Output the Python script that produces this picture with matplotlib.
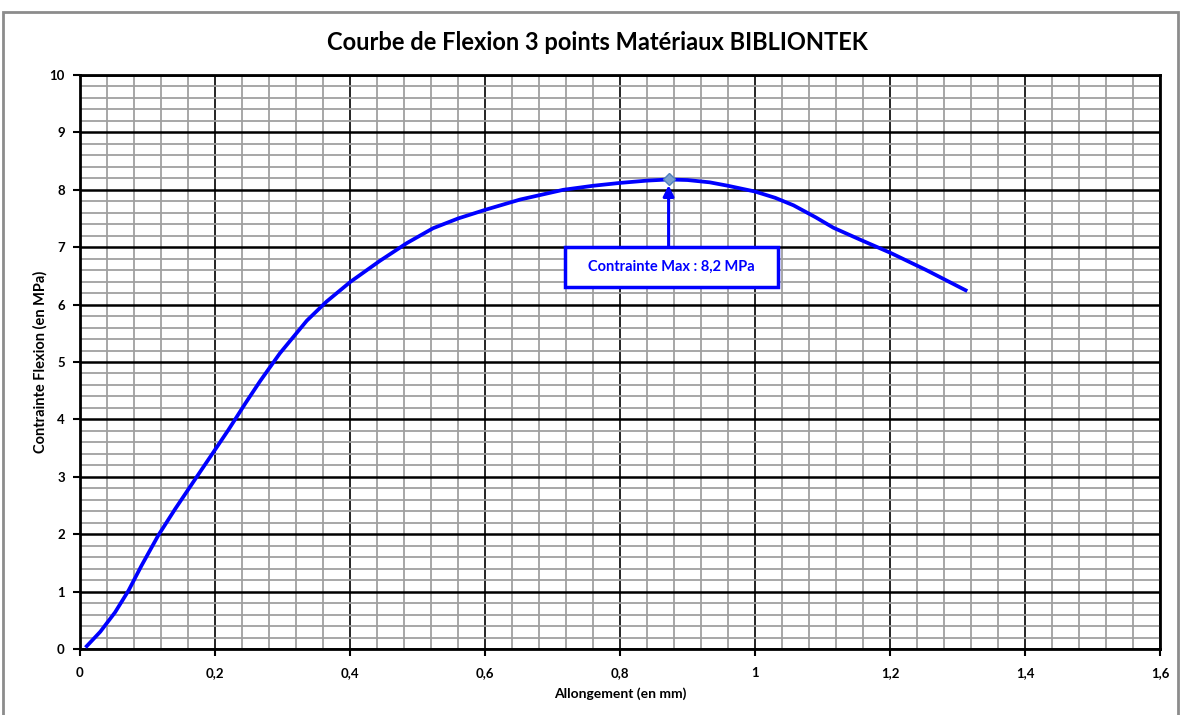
import matplotlib
matplotlib.use("Agg")
import matplotlib.pyplot as plt
from matplotlib.patches import Rectangle
from matplotlib.ticker import MultipleLocator

# Données
allongement = [0.01, 0.03, 0.052, 0.072, 0.091, 0.116, 0.141, 0.173, 0.2, 0.22,
               0.245, 0.267, 0.296, 0.336, 0.365, 0.401, 0.444, 0.484, 0.523, 0.56,
               0.6, 0.652, 0.716, 0.76, 0.8, 0.84, 0.872, 0.9, 0.933, 0.96,
               1.0, 1.03, 1.057, 1.09, 1.116, 1.156, 1.201, 1.254, 1.312]
contrainte = [0.05, 0.3, 0.64, 1.02, 1.45, 1.98, 2.44, 3.0, 3.47, 3.82,
              4.28, 4.67, 5.15, 5.72, 6.05, 6.4, 6.76, 7.07, 7.33, 7.5,
              7.65, 7.83, 8.0, 8.07, 8.12, 8.16, 8.18, 8.17, 8.13, 8.07,
              7.97, 7.86, 7.73, 7.52, 7.34, 7.13, 6.9, 6.6, 6.25]

x_ticks = [0, 0.2, 0.4, 0.6, 0.8, 1.0, 1.2, 1.4, 1.6]
x_labels = ["0", "0,2", "0,4", "0,6", "0,8", "1", "1,2", "1,4", "1,6"]
y_ticks = [0, 1, 2, 3, 4, 5, 6, 7, 8, 9, 10]

pic_x, pic_y = 0.872, 8.18
pic_texte = "Contrainte Max : 8,2 MPa"

plt.rcParams['font.family'] = ['Lato', 'DejaVu Sans']

fig = plt.figure(figsize=(11.82, 7.15), dpi=100)
ax = fig.add_axes([80 / 1182, 1 - 649 / 715, 1080 / 1182, 574 / 715])

# cadre gris autour du graphique
fig.patches.append(Rectangle((3 / 1182, -0.02), 1175 / 1182, 1.02 - 12 / 715,
                             transform=fig.transFigure, fill=False,
                             edgecolor='#8c8c8c', linewidth=2))

# grilles
ax.set_xlim(0, 1.6)
ax.set_ylim(0, 10)
ax.set_xticks(x_ticks)
ax.set_xticklabels(x_labels)
ax.set_yticks(y_ticks)
ax.xaxis.set_minor_locator(MultipleLocator(0.04))
ax.yaxis.set_minor_locator(MultipleLocator(0.2))
ax.grid(which='minor', color='#a0a0a0', linewidth=1.3)
ax.grid(which='major', axis='x', color='black', linewidth=1.2)
ax.grid(which='major', axis='y', color='black', linewidth=1.8)
ax.set_axisbelow(True)
ax.tick_params(which='minor', length=0)
ax.tick_params(which='major', length=5, width=1.5, direction='out', labelsize=9.5)
for lab in ax.get_xticklabels() + ax.get_yticklabels():
    lab.set_fontweight('bold')
ax.tick_params(axis='x', pad=8)
ax.tick_params(axis='y', pad=6)
for s in ax.spines.values():
    s.set_linewidth(2)

# courbe
ax.plot(allongement, contrainte, color='#0000ff', linewidth=2.7,
        solid_joinstyle='round', zorder=3)
ax.plot([pic_x], [pic_y], marker='D', markersize=6, markerfacecolor='#7fa3cc',
        markeredgecolor='#4f81bd', zorder=4)

# annotation du maximum : cadre + flèche
bx0, bx1, by0, by1 = 0.7185, 1.034, 6.31, 7.0
ax.add_patch(Rectangle((bx0, by0), bx1 - bx0, by1 - by0, facecolor='white',
                       edgecolor='#0000ff', linewidth=2.5, zorder=5))
ax.text((bx0 + bx1) / 2, (by0 + by1) / 2, pic_texte, ha='center', va='center',
        fontsize=10.5, fontweight='bold', color='#0000ff', zorder=6)
ax.annotate("", xy=(pic_x, pic_y - 0.1), xytext=(pic_x, by1),
            arrowprops=dict(arrowstyle='-|>', color='#0000ff', lw=2.2, mutation_scale=16,
                            shrinkA=0, shrinkB=0),
            zorder=5)

fig.text(597 / 1182, 1 - 42 / 715, "Courbe de Flexion 3 points Matériaux BIBLIONTEK",
         ha='center', va='center', fontsize=17, fontweight='bold')
ax.set_xlabel("Allongement (en mm)", fontsize=10, fontweight='bold', labelpad=6)
ax.set_ylabel("Contrainte Flexion (en MPa)", fontsize=10.5, fontweight='bold')
ax.yaxis.set_label_coords(-0.03, 0.5)

fig.savefig("out.png", dpi=100, facecolor='white')
